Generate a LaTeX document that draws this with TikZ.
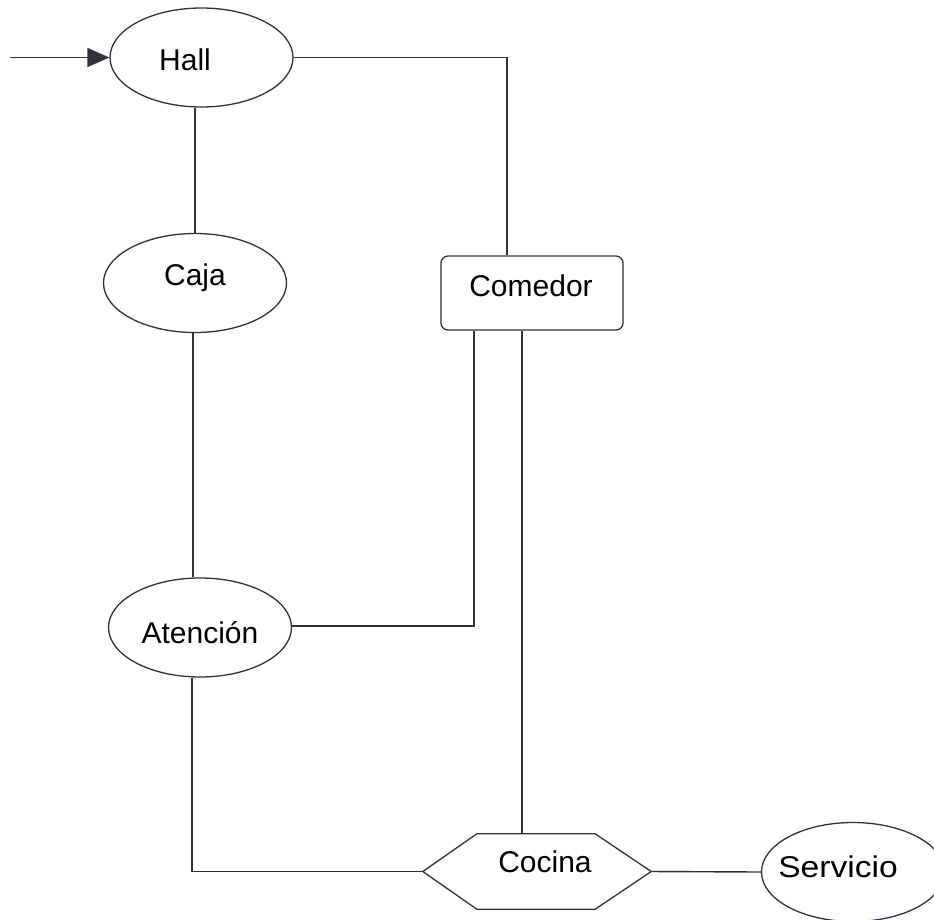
\documentclass[tikz,border=0pt]{standalone}
\usepackage{fontspec}
\setmainfont{Liberation Sans}
\usetikzlibrary{arrows.meta,shapes.geometric}
\definecolor{ink}{RGB}{52,46,62}
\tikzset{
  wire/.style={draw=ink, line width=1.4pt},
  place/.style={ellipse, draw=ink, line width=1.3pt, minimum width=183pt, minimum height=99pt, inner sep=0pt},
  roombox/.style={rectangle, rounded corners=7pt, draw=ink, line width=1.3pt, minimum width=182pt, minimum height=74pt, inner sep=0pt},
  hexslot/.style={rectangle, minimum width=228pt, minimum height=75pt, inner sep=0pt},
  caption/.style={font=\fontsize{30}{35}\selectfont, text=black, inner sep=0pt, anchor=center},
}
\begin{document}
\begin{tikzpicture}[x=1pt, y=-1pt]
\useasboundingbox[fill=white] (0,0) rectangle (934,919);

% rooms
\node[place] (hall) at (201.5,57.5) {};
\node[caption] (hallt) at (185,60) {Hall};
\node[place] (caja) at (195,283) {};
\node[caption] (cajat) at (195,278) {Caja};
\node[place] (atencion) at (200,627.5) {};
\node[caption] (atenciont) at (200,633) {Atención};
\node[roombox] (comedor) at (532,293) {};
\node[caption] (comedort) at (531,286) {Comedor};
\node[hexslot] (cocina) at (537,871.5) {};
\draw[ink, line width=1.3pt] (cocina.west) -- ([xshift=54pt]cocina.north west) -- ([xshift=-56pt]cocina.north east)
  -- (cocina.east) -- ([xshift=-56pt]cocina.south east) -- ([xshift=54pt]cocina.south west) -- cycle;
\node[caption] (cocinat) at (545,862) {Cocina};
\node[place] (servicio) at (853,872) {};
\node[caption] (serviciot) at (838,867) {\scalebox{1.12}[1]{Servicio}};

% entrance
\coordinate (entry) at (10,57.5);
\draw[wire, -{Triangle[length=22pt, width=19pt]}] (entry) -- (hall.west);

% connections
\draw[wire] (hall.east) -| ([xshift=-25pt]comedor.north);
\draw[wire] (caja.north) -- (caja.north |- hall.south);
\draw[wire] ([xshift=-2pt]caja.south) -- ([xshift=-2pt]caja.south |- atencion.north);
\draw[wire] ([yshift=1.5pt]atencion.east) -| ([xshift=-58pt]comedor.south);
\draw[wire] ([xshift=-10pt]comedor.south) -- ([xshift=-10pt]comedor.south |- cocina.north);
\draw[wire] ([xshift=-8pt]atencion.south) |- (cocina.west);
\draw[wire] (cocina.east) -- (servicio.west);
\end{tikzpicture}
\end{document}
